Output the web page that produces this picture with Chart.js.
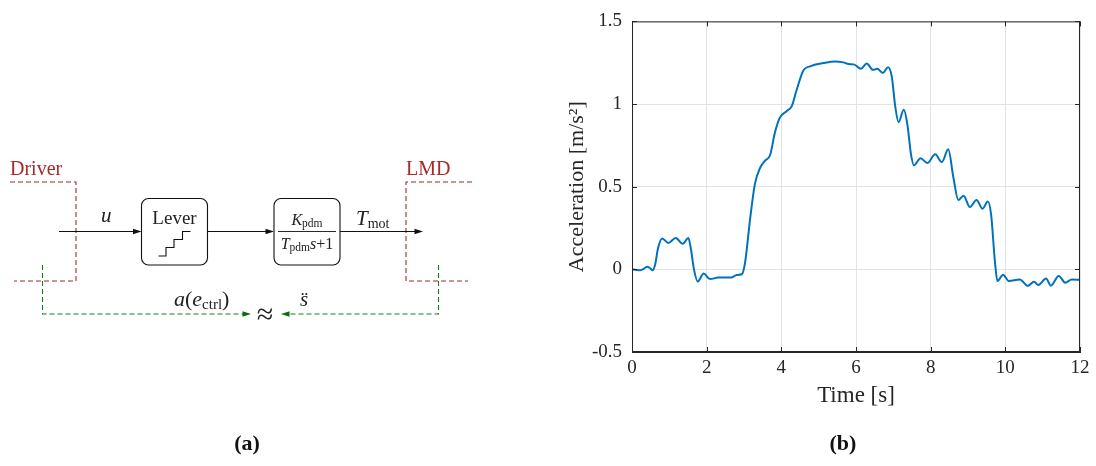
<!DOCTYPE html>
<html>
<head>
<meta charset="utf-8">
<script src="https://cdn.jsdelivr.net/npm/chart.js@4/dist/chart.umd.min.js"></script>
<style>
html, body { margin: 0; padding: 0; background: #fff; }
#wrap { position: relative; width: 1096px; height: 466px; overflow: hidden; }
#chart { position: absolute; left: 0; top: 0; }
#diagram { position: absolute; left: 0; top: 0; pointer-events: none; }
</style>
</head>
<body>
<div id="wrap">
<canvas id="chart" width="1096" height="466"></canvas>
<svg id="diagram" width="1096" height="466" font-family="'Liberation Serif', serif">
  <!-- driver box (dashed red) -->
  <g stroke="#9e2a2b" stroke-width="1.1" stroke-dasharray="5,3" fill="none">
    <polyline points="10,182 76,182 76,281 14,281"/>
    <polyline points="472,182 406,182 406,281 468,281"/>
  </g>
  <text x="10" y="175" font-size="20" fill="#a52a2a">Driver</text>
  <text x="406" y="175" font-size="20" fill="#a52a2a">LMD</text>

  <!-- signal path -->
  <g stroke="#111" stroke-width="1.1" fill="none">
    <line x1="59" y1="231.5" x2="136" y2="231.5"/>
    <line x1="208" y1="231.5" x2="268" y2="231.5"/>
    <line x1="340" y1="231.5" x2="417" y2="231.5"/>
    <rect x="141.5" y="198.5" width="66" height="66.5" rx="7" ry="7"/>
    <rect x="274" y="198.5" width="66" height="66.5" rx="7" ry="7"/>
    <polyline points="158.5,256 166,256 166,247.5 174,247.5 174,239.5 182.5,239.5 182.5,231.5 190.5,231.5"/>
    <line x1="278" y1="231.5" x2="336" y2="231.5" stroke-width="0.9"/>
  </g>
  <g fill="#111">
    <polygon points="141.5,231.5 133,228.8 133,234.2"/>
    <polygon points="274,231.5 265.5,228.8 265.5,234.2"/>
    <polygon points="423,231.5 414.5,228.8 414.5,234.2"/>
  </g>
  <text x="174.5" y="224" font-size="19" text-anchor="middle" fill="#222">Lever</text>
  <text x="101" y="222" font-size="21" font-style="italic" fill="#222">u</text>
  <text x="356" y="225" font-size="21" fill="#222"><tspan font-style="italic">T</tspan><tspan font-size="14" dy="3">mot</tspan></text>
  <text x="307" y="225" font-size="16" text-anchor="middle" fill="#222"><tspan font-style="italic">K</tspan><tspan font-size="11.5" dy="2">pdm</tspan></text>
  <text x="307" y="249" font-size="16" text-anchor="middle" fill="#222"><tspan font-style="italic">T</tspan><tspan font-size="11.5" dy="2">pdm</tspan><tspan dy="-2" font-style="italic">s</tspan>+1</text>

  <!-- green dashed feedback -->
  <g stroke="#1e7b1e" stroke-width="1.1" stroke-dasharray="5,3" fill="none">
    <polyline points="42.5,265 42.5,314 244,314"/>
    <polyline points="438.5,265 438.5,314 288,314"/>
  </g>
  <g fill="#0d6b0d">
    <polygon points="251,314 242.5,311.3 242.5,316.7"/>
    <polygon points="281,314 289.5,311.3 289.5,316.7"/>
  </g>
  <text x="265" y="324" font-size="30" text-anchor="middle" fill="#222">≈</text>
  <text x="174" y="306" font-size="22" fill="#222"><tspan font-style="italic">a</tspan>(<tspan font-style="italic">e</tspan><tspan font-size="15" dy="3">ctrl</tspan><tspan dy="-3">)</tspan></text>
  <text x="300" y="306" font-size="21" font-style="italic" fill="#222">s&#776;</text>

  <text x="247" y="450" font-size="22" font-weight="bold" text-anchor="middle" fill="#111">(a)</text>
  <text x="843" y="450" font-size="22" font-weight="bold" text-anchor="middle" fill="#111">(b)</text>
</svg>
</div>
<script>
// measured trace, time [s] and acceleration [m/s^2]
const time = [0.00, 0.12, 0.22, 0.32, 0.41, 0.48, 0.55, 0.62, 0.70, 0.81, 0.97, 1.17, 1.36, 1.51, 1.58, 1.66, 1.76, 1.92, 2.09, 2.31, 2.66, 2.80, 2.94,
  3.03, 3.16, 3.29, 3.43, 3.56, 3.70, 3.83, 3.96, 4.14, 4.28, 4.41, 4.59, 4.77, 5.13, 5.44, 5.66, 5.80, 5.94, 6.13, 6.29, 6.45, 6.57, 6.72, 6.86, 6.96,
  7.05, 7.14, 7.28, 7.38, 7.47, 7.55, 7.73, 7.91, 8.12, 8.30, 8.47, 8.61, 8.74, 8.88, 9.05, 9.23, 9.39, 9.53, 9.62, 9.72, 9.79, 9.94,
  10.09, 10.39, 10.60, 10.77, 10.88, 11.09, 11.22, 11.43, 11.61, 11.78, 12.00];
const accel = [0.000, -0.004, -0.006, 0.005, 0.016, 0.008, -0.005, 0.030, 0.130, 0.187, 0.160, 0.190, 0.155, 0.190, 0.120, 0.000, -0.073, -0.025, -0.059, -0.050, -0.050, -0.034, -0.030,
  0.043, 0.298, 0.514, 0.613, 0.656, 0.692, 0.829, 0.918, 0.957, 0.987, 1.085, 1.203, 1.228, 1.248, 1.258, 1.252, 1.242, 1.240, 1.213, 1.246, 1.207, 1.213, 1.188, 1.223, 1.164,
  0.987, 0.890, 0.965, 0.870, 0.700, 0.629, 0.672, 0.643, 0.696, 0.649, 0.726, 0.554, 0.420, 0.446, 0.377, 0.420, 0.367, 0.410, 0.330, 0.050, -0.071, -0.032,
  -0.070, -0.061, -0.100, -0.075, -0.095, -0.056, -0.099, -0.040, -0.081, -0.061, -0.063];
const xTickLabels = ['0', '2', '4', '6', '8', '10', '12'];
const yTickLabels = ['-0.5', '0', '0.5', '1', '1.5'];

const points = time.map((t, i) => ({ x: t, y: accel[i] }));
const serif = "'Liberation Serif', serif";

// box around the axes plus inward tick marks, matlab style
const axesBox = {
  id: 'axesBox',
  afterDatasetsDraw(chart) {
    const { ctx, chartArea: a, scales } = chart;
    ctx.save();
    ctx.strokeStyle = '#262626';
    ctx.lineWidth = 1;
    ctx.strokeRect(a.left + 0.5, a.top + 0.5, a.right - a.left - 1, a.bottom - a.top - 1);
    ctx.beginPath();
    scales.x.ticks.forEach(tk => {
      const px = Math.round(scales.x.getPixelForValue(tk.value)) + 0.5;
      ctx.moveTo(px, a.bottom); ctx.lineTo(px, a.bottom - 5);
      ctx.moveTo(px, a.top); ctx.lineTo(px, a.top + 5);
    });
    scales.y.ticks.forEach(tk => {
      const py = Math.round(scales.y.getPixelForValue(tk.value)) + 0.5;
      ctx.moveTo(a.left, py); ctx.lineTo(a.left + 5, py);
      ctx.moveTo(a.right, py); ctx.lineTo(a.right - 5, py);
    });
    ctx.stroke();
    ctx.restore();
  }
};

new Chart(document.getElementById('chart').getContext('2d'), {
  type: 'line',
  data: {
    datasets: [{
      data: points,
      borderColor: '#0072bd',
      borderWidth: 2,
      pointRadius: 0,
      tension: 0.4,
      cubicInterpolationMode: 'monotone',
      fill: false
    }]
  },
  options: {
    responsive: false,
    animation: false,
    layout: { padding: { left: 564, right: 16, top: 13, bottom: 44 } },
    plugins: { legend: { display: false }, tooltip: { enabled: false } },
    scales: {
      x: {
        type: 'linear',
        min: 0, max: 12,
        ticks: {
          stepSize: 2,
          padding: 5,
          color: '#262626',
          font: { family: serif, size: 19 },
          callback: (v, i) => xTickLabels[i]
        },
        grid: { color: '#e3e3e3', drawTicks: false },
        border: { color: '#262626' },
        title: {
          display: true,
          text: 'Time [s]',
          color: '#262626',
          font: { family: serif, size: 23 },
          padding: { top: 0, bottom: 12 }
        },
        afterFit(s) { s.height = 70; }
      },
      y: {
        min: -0.5, max: 1.5,
        ticks: {
          stepSize: 0.5,
          padding: 10,
          color: '#262626',
          font: { family: serif, size: 19 },
          callback: (v, i) => yTickLabels[i]
        },
        grid: { color: '#e3e3e3', drawTicks: false },
        border: { color: '#262626' },
        title: {
          display: true,
          text: 'Acceleration [m/s²]',
          color: '#262626',
          font: { family: serif, size: 22 },
          padding: { top: 0, bottom: 0 }
        },
        afterFit(s) { s.width = 68; }
      }
    }
  },
  plugins: [axesBox]
});
</script>
</body>
</html>
